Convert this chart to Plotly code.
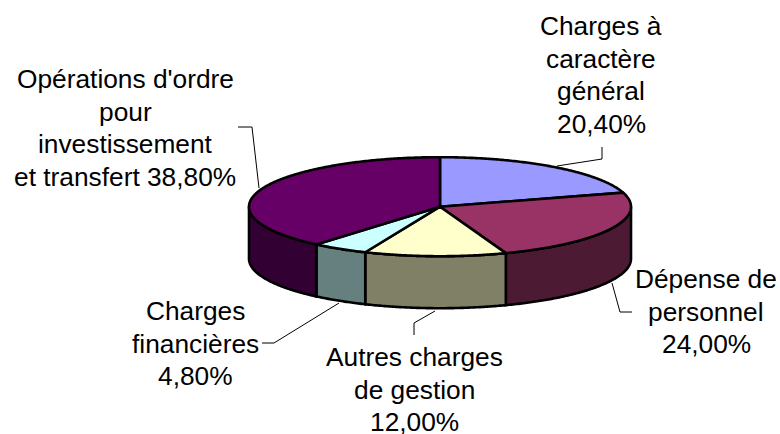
import math
import plotly.graph_objects as go

categories = ["Charges à caractère général", "Dépense de personnel",
              "Autres charges de gestion", "Charges financières",
              "Opérations d'ordre pour investissement et transfert"]
shares = [20.4, 24.0, 12.0, 4.8, 38.8]
top_colors = ["#9999FF", "#993366", "#FFFFCC", "#CCFFFF", "#660066"]
side_colors = ["#4C4C80", "#4D1A33", "#808066", "#668080", "#330033"]
label_lines = [
    ["Charges à", "caractère", "général", "20,40%"],
    ["Dépense de", "personnel", "24,00%"],
    ["Autres charges", "de gestion", "12,00%"],
    ["Charges", "financières", "4,80%"],
    ["Opérations d'ordre", "pour", "investissement", "et transfert 38,80%"],
]
label_x = [601, 706, 414, 195, 125]
label_y0 = [26, 279, 357, 311, 79]
leaders = [
    [(557, 166), (602, 159), (602, 147)],
    [(612, 283), (620, 312), (632, 312)],
    [(435, 311), (414, 323), (414, 335)],
    [(339, 303), (274, 343), (262, 343)],
    [(259, 188), (252, 127), (238, 127)],
]

CX, CY, RX, RY, DEPTH = 440, 206.7, 191, 49.5, 52
LINE_PITCH = 32.6
FONT = dict(family="Liberation Sans, Arial, sans-serif", size=26.3, color="#000000")


def pt(a, drop=0):
    return CX + RX * math.sin(a), CY - RY * math.cos(a) + drop


def arc(a0, a1, drop=0):
    n = max(2, int(abs(a1 - a0) / 0.01))
    return [pt(a0 + (a1 - a0) * i / n, drop) for i in range(n + 1)]


fig = go.Figure()


def poly(points, color, width=2.6):
    fig.add_trace(go.Scatter(
        x=[p[0] for p in points] + [points[0][0]],
        y=[p[1] for p in points] + [points[0][1]],
        mode="lines", fill="toself", fillcolor=color,
        line=dict(color="#000000", width=width, simplify=False),
        hoverinfo="skip", showlegend=False))


total = sum(shares)
bounds = [0.0]
for s in shares:
    bounds.append(bounds[-1] + s / total * 2 * math.pi)

# side walls (only the front half of the ellipse is visible)
for i in range(len(shares)):
    a0 = max(bounds[i], math.pi / 2)
    a1 = min(bounds[i + 1], 3 * math.pi / 2)
    if a1 > a0:
        poly(arc(a0, a1) + arc(a1, a0, DEPTH), side_colors[i])

# top faces
for i in range(len(shares)):
    poly([(CX, CY)] + arc(bounds[i], bounds[i + 1]), top_colors[i])

# leader lines
for path in leaders:
    fig.add_trace(go.Scatter(
        x=[p[0] for p in path], y=[p[1] for p in path], mode="lines",
        line=dict(color="#000000", width=1), hoverinfo="skip", showlegend=False))

# labels: one annotation per line, because Excel's line pitch differs from Plotly's
annotations = []
for lines, x, y0 in zip(label_lines, label_x, label_y0):
    for j, text in enumerate(lines):
        annotations.append(dict(
            x=x, y=y0 + j * LINE_PITCH, text=text, xref="x", yref="y",
            showarrow=False, xanchor="center", yanchor="middle", font=FONT))

fig.update_layout(
    width=780, height=434, margin=dict(l=0, r=0, t=0, b=0),
    paper_bgcolor="#FFFFFF", plot_bgcolor="#FFFFFF",
    xaxis=dict(range=[0, 780], visible=False, fixedrange=True),
    yaxis=dict(range=[434, 0], visible=False, fixedrange=True),
    annotations=annotations, showlegend=False)

fig.write_html("out.html", config=dict(displayModeBar=False),
               post_script="document.body.style.margin='0';document.body.style.overflow='hidden';")
